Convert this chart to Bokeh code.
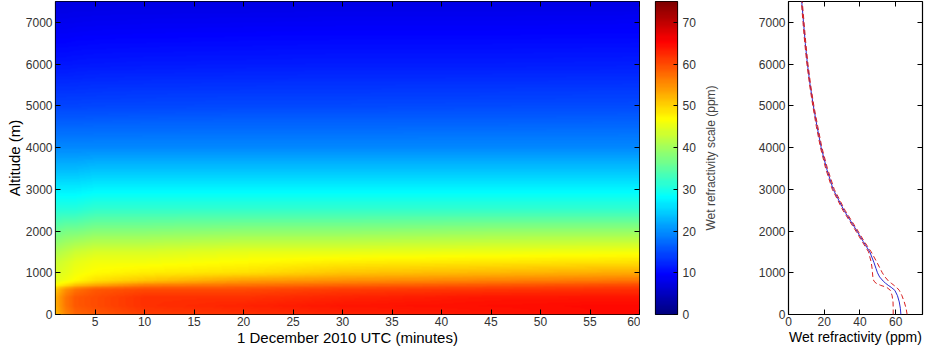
import numpy as np
from bokeh.plotting import figure
from bokeh.layouts import row
from bokeh.models import LinearAxis, FixedTicker, LinearColorMapper, Range1d
from bokeh.embed import file_html
from bokeh.resources import INLINE

# ---------------- data ----------------
# heat map: wet refractivity (ppm) at fixed altitudes for several times (minutes)
alt_levels = [0, 200, 400, 600, 700, 800, 1000, 1250, 1500, 2000, 2500, 3000,
              3500, 4000, 5000, 6000, 7000, 7500]
time_cols = [1, 2, 3, 5, 10, 20, 30, 45, 60]
n_t01 = [52, 53, 53, 51, 47, 45, 44, 43, 41, 36, 31, 27, 23, 19.5, 14.5, 11.0, 8.4, 7.3]
n_t02 = [56, 57, 57, 55, 49, 46, 45, 44, 42, 37, 31, 27, 23, 19.5, 14.5, 11.0, 8.4, 7.3]
n_t03 = [58, 59, 59, 57, 51, 47, 46, 45, 43, 37, 31, 27, 23, 19.5, 14.5, 11.1, 8.5, 7.4]
n_t05 = [59, 60, 60, 59, 53, 49, 47, 46, 44, 38, 32, 27.5, 23.5, 19.5, 14.6, 11.2, 8.6, 7.4]
n_t10 = [61, 62, 62, 60, 56, 51, 48, 46, 44, 38, 32, 27.5, 23.5, 19.5, 14.7, 11.3, 8.7, 7.5]
n_t20 = [62, 63, 62, 60, 57, 54, 49, 47, 45, 38.5, 32, 27.5, 23.5, 19.5, 14.8, 11.4, 8.8, 7.5]
n_t30 = [63, 64, 63, 61, 58, 55, 51, 48, 45, 38.5, 32, 27.5, 23.5, 19.5, 14.8, 11.5, 8.9, 7.6]
n_t45 = [64, 64.5, 64, 61.5, 59, 56, 52, 48.5, 45.5, 39, 32, 27.5, 23.5, 19.5, 14.9, 11.5, 8.9, 7.6]
n_t60 = [65, 65, 64, 62, 60, 57, 53, 49, 46, 39, 32, 27.5, 23.5, 19.5, 15.0, 11.6, 9.0, 7.6]
columns = [n_t01, n_t02, n_t03, n_t05, n_t10, n_t20, n_t30, n_t45, n_t60]

# profile panel: mean and bounds
alt_p = [0, 150, 300, 450, 580, 650, 700, 750, 800, 900, 1000, 1100, 1250, 1500, 1750,
         2000, 2500, 3000, 3500, 4000, 4500, 5000, 5500, 6000, 6500, 7000, 7500]
n_mean = [62.9, 62.6, 62.0, 61.0, 59.5, 57.5, 55.8, 54.3, 53.0, 51.0, 49.8, 49.0, 47.8, 45.5,
          41.8, 38.3, 31.0, 25.0, 21.3, 18.3, 16.0, 13.9, 12.1, 10.6, 9.4, 8.4, 7.4]
n_low = [58.6, 58.6, 58.5, 58.0, 57.0, 55.0, 51.5, 49.0, 47.8, 47.2, 47.0, 46.8, 46.3, 44.8,
         41.2, 37.7, 30.4, 24.5, 20.8, 17.9, 15.6, 13.6, 11.8, 10.3, 9.1, 8.1, 7.2]
n_high = [66.4, 65.8, 64.8, 63.5, 62.0, 60.5, 59.0, 57.5, 56.0, 54.0, 52.5, 51.3, 49.5, 46.3,
          42.4, 38.9, 31.6, 25.6, 21.8, 18.7, 16.4, 14.2, 12.4, 10.9, 9.7, 8.7, 7.7]

x_ticks = [5, 10, 15, 20, 25, 30, 35, 40, 45, 50, 55, 60]
y_ticks = [0, 1000, 2000, 3000, 4000, 5000, 6000, 7000]
cb_ticks = [0, 10, 20, 30, 40, 50, 60, 70]
prof_x_ticks = [0, 20, 40, 60]
cb_title = "Wet refractivity scale (ppm)"

# ---------------- jet palette ----------------
def jet(n):
    x = np.linspace(0, 1, n)
    r = np.clip(np.minimum(4 * x - 1.5, -4 * x + 4.5), 0, 1)
    g = np.clip(np.minimum(4 * x - 0.5, -4 * x + 3.5), 0, 1)
    b = np.clip(np.minimum(4 * x + 0.5, -4 * x + 2.5), 0, 1)
    return ["#%02x%02x%02x" % (int(rr * 255), int(gg * 255), int(bb * 255))
            for rr, gg, bb in zip(r, g, b)]

mapper = LinearColorMapper(palette=jet(256), low=0, high=75)

# smooth rendering of the read grid (shading interp)
grid = np.array(columns, dtype=float)  # (ntime, nalt)
tt = np.linspace(1, 60, 600)
zz = np.linspace(0, 7500, 420)
tmp = np.array([np.interp(zz, alt_levels, col) for col in grid])  # (ntime, nz)
field = np.array([np.interp(tt, time_cols, tmp[:, j]) for j in range(len(zz))])  # (nz, nt)

FONT = "Liberation Sans"
TICK_C = "#333333"


def style(ax, labels=True, size="12px"):
    ax.major_tick_in = 5
    ax.major_tick_out = 0
    ax.minor_tick_line_color = None
    ax.axis_line_color = None
    ax.major_tick_line_color = "black"
    ax.major_tick_line_width = 1
    ax.major_label_text_font = FONT
    ax.axis_label_text_font = FONT
    ax.axis_label_text_font_style = "normal"
    ax.axis_label_text_color = "black"
    if labels:
        ax.major_label_text_font_size = size
        ax.major_label_text_color = TICK_C
        ax.major_label_standoff = 2
    else:
        ax.major_label_text_font_size = "1px"
        ax.major_label_text_color = None
        ax.major_label_standoff = 0


def base(p):
    p.grid.visible = False
    p.outline_line_color = "black"
    p.outline_line_width = 1.2
    p.background_fill_color = "white"
    p.border_fill_color = "white"


H = 348
BOT = 33
# ---------------- main heat map ----------------
p1 = figure(width=640, height=H, x_range=Range1d(1, 60), y_range=Range1d(0, 7500),
            output_backend="svg", toolbar_location=None,
            min_border_left=55, min_border_right=1, min_border_top=1, min_border_bottom=BOT)
base(p1)
p1.image(image=[field], x=1, y=0, dw=59, dh=7500, color_mapper=mapper)
p1.xaxis.ticker = FixedTicker(ticks=x_ticks)
p1.yaxis.ticker = FixedTicker(ticks=y_ticks)
p1.xaxis.axis_label = "1 December 2010 UTC (minutes)"
p1.yaxis.axis_label = "Altitude (m)"
for ax in p1.xaxis + p1.yaxis:
    style(ax)
    ax.axis_label_text_font_size = "15px"
    ax.axis_label_standoff = 0
p1.yaxis.major_label_standoff = 3
top1 = LinearAxis(ticker=FixedTicker(ticks=x_ticks))
right1 = LinearAxis(ticker=FixedTicker(ticks=y_ticks))
style(top1, labels=False)
style(right1, labels=False)
p1.add_layout(top1, "above")
p1.add_layout(right1, "right")

# ---------------- colour bar ----------------
p2 = figure(width=59, height=H, x_range=Range1d(0, 1), y_range=Range1d(0, 75),
            output_backend="svg", toolbar_location=None, y_axis_location="right",
            min_border_left=15, min_border_right=22, min_border_top=1, min_border_bottom=BOT)
base(p2)
cb_vals = np.linspace(0, 75, 300).reshape(300, 1)
p2.image(image=[cb_vals], x=0, y=0, dw=1, dh=75, color_mapper=mapper)
p2.xaxis.visible = False
p2.yaxis.ticker = FixedTicker(ticks=cb_ticks)
for ax in p2.yaxis:
    style(ax)
    ax.major_tick_in = 4
    ax.major_label_standoff = 5

# ---------------- profile panel ----------------
# its left border also carries the colour-bar title (reads bottom-to-top)
p3 = figure(width=225, height=H, x_range=Range1d(0, 75), y_range=Range1d(0, 7500),
            output_backend="svg", toolbar_location=None,
            min_border_left=89, min_border_right=2, min_border_top=1, min_border_bottom=BOT)
base(p3)
p3.line(n_mean, alt_p, line_color="#2a2ad0", line_width=1)
p3.line(n_low, alt_p, line_color="#d82020", line_width=1, line_dash="5 3")
p3.line(n_high, alt_p, line_color="#d82020", line_width=1, line_dash="5 3")
p3.xaxis.ticker = FixedTicker(ticks=prof_x_ticks)
p3.yaxis.ticker = FixedTicker(ticks=y_ticks)
p3.xaxis.axis_label = "Wet refractivity (ppm)"
p3.yaxis.axis_label = cb_title
for ax in p3.xaxis + p3.yaxis:
    style(ax)
    ax.axis_label_text_font_size = "14px"
    ax.axis_label_standoff = 0
p3.yaxis.major_label_standoff = 3
p3.yaxis.axis_label_text_font_size = "12px"
p3.yaxis.axis_label_text_color = "#444444"
p3.yaxis.axis_label_standoff = 38
top3 = LinearAxis(ticker=FixedTicker(ticks=prof_x_ticks))
right3 = LinearAxis(ticker=FixedTicker(ticks=y_ticks))
style(top3, labels=False)
style(right3, labels=False)
p3.add_layout(top3, "above")
p3.add_layout(right3, "right")

layout = row(p1, p2, p3, spacing=0)
open("out.html", "w").write(file_html(layout, INLINE))
